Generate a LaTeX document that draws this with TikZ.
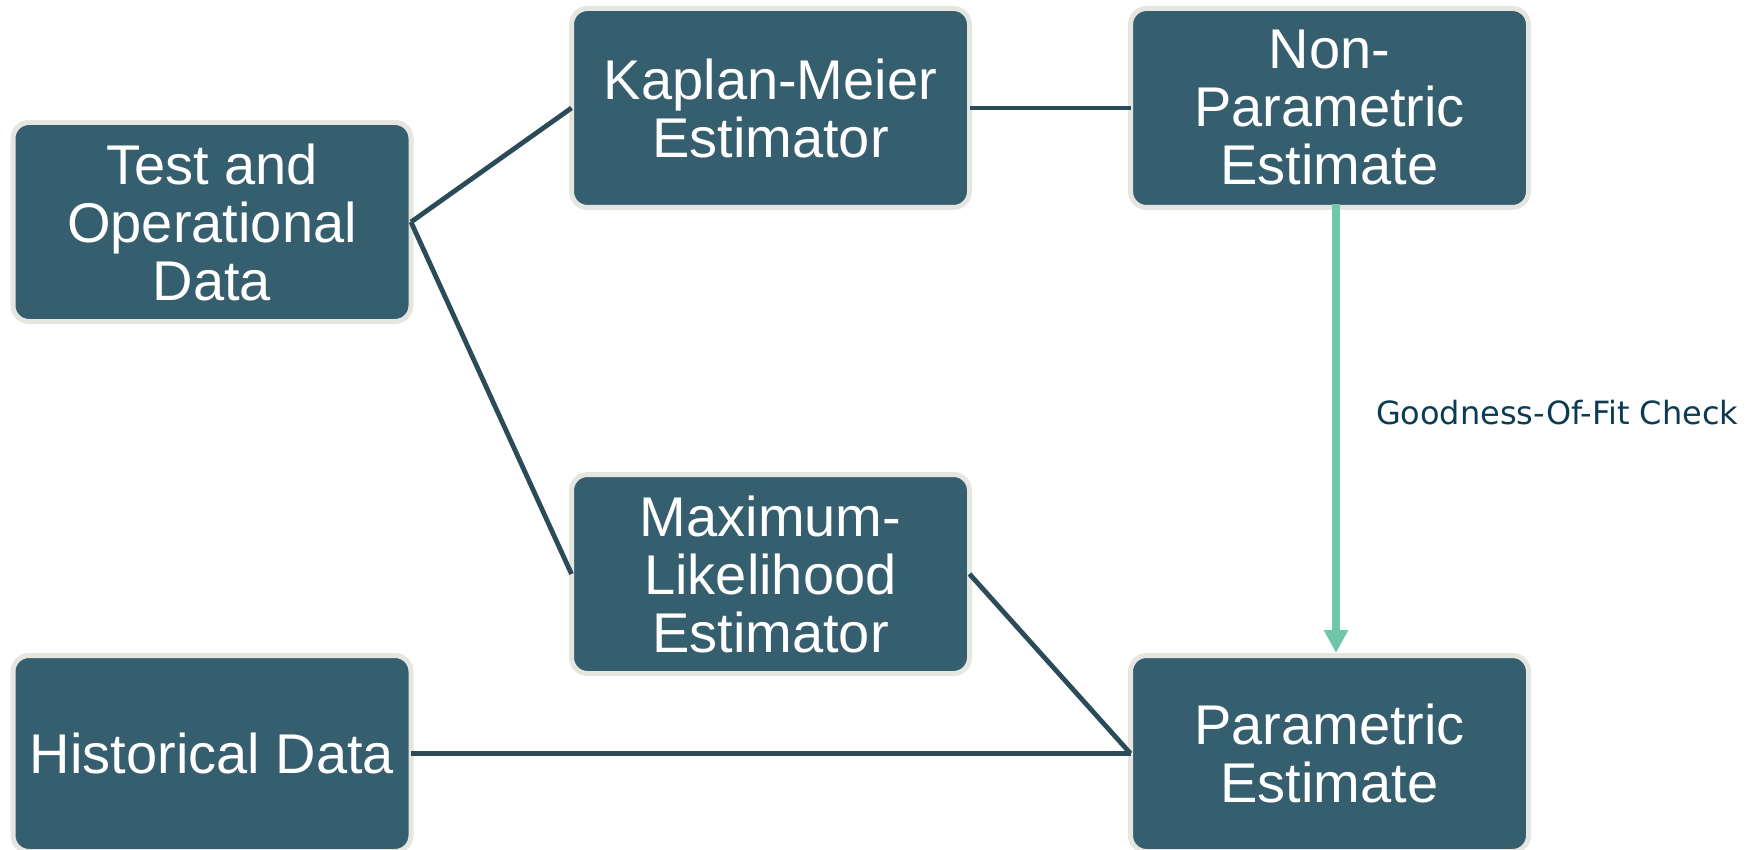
\documentclass[tikz,border=0pt]{standalone}
\usepackage{fontspec}
\setmainfont{Liberation Sans}
\newfontfamily\checkfont{DejaVu Sans}
\usetikzlibrary{arrows.meta}
\definecolor{boxfill}{HTML}{355E6E}
\definecolor{boxrim}{HTML}{E6E6E1}
\definecolor{linkcol}{HTML}{2B4B58}
\definecolor{fitgreen}{HTML}{6FC6A8}
\definecolor{labelcol}{HTML}{0D3B53}

\begin{document}
\begin{tikzpicture}[x=0.5pt, y=-0.5pt,
  stagebox/.style={rectangle, rounded corners=8pt, fill=boxfill, draw=boxrim,
    line width=2.5pt, text=white, align=center, minimum width=199pt,
    minimum height=99.5pt, inner sep=0pt, outer sep=0pt,
    font=\fontsize{28}{29}\selectfont},
  lowbox/.style={stagebox, minimum height=98pt},
  link/.style={draw=linkcol, line width=2.4pt},
  fitarrow/.style={draw=fitgreen, line width=4pt,
    -{Triangle[length=11.5pt, width=11.5pt]}},
  checklabel/.style={text=labelcol, inner sep=0pt,
    font=\checkfont\fontsize{16}{19}\selectfont},
]
\useasboundingbox (0,0) rectangle (1755,850);

% estimation stages
\node[stagebox] (test) at (212,222)    {Test and\\Operational\\Data};
\node[stagebox] (km)   at (770.5,108)  {Kaplan-Meier\\Estimator};
\node[stagebox] (np)   at (1329.5,108) {Non-\\Parametric\\Estimate};
\node[stagebox] (mle)  at (770.5,574)  {Maximum-\\Likelihood\\Estimator};
\node[lowbox]   (hist) at (212,753.5)  {Historical Data};
\node[lowbox]   (par)  at (1329.5,753.5) {Parametric\\Estimate};

% data flow
\draw[link] (test.east) -- (km.west);
\draw[link] (test.east) -- (mle.west);
\draw[link] (km.east) -- (np.west);
\draw[link] (mle.east) -- (par.west);
\draw[link] (hist.east) -- (par.west);

% goodness-of-fit check
\draw[fitarrow] ([xshift=3.25pt, yshift=1.75pt]np.south)
  -- ([xshift=3.25pt, yshift=1.25pt]par.north)
  node[pos=0.49, anchor=base west, xshift=18pt, checklabel] {Goodness-Of-Fit Check};
\end{tikzpicture}
\end{document}
